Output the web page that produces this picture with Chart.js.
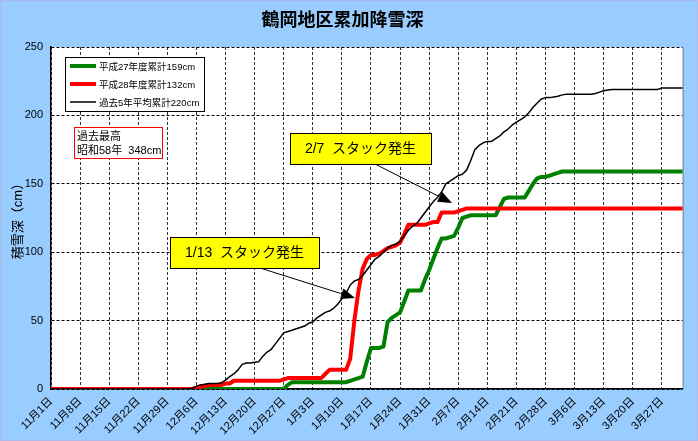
<!DOCTYPE html>
<html lang="ja">
<head>
<meta charset="utf-8">
<title>鶴岡地区累加降雪深</title>
<script src="https://cdn.jsdelivr.net/npm/chart.js@4.4.1/dist/chart.umd.min.js"></script>
<style>
  html, body { margin: 0; padding: 0; background: #99CCFF; }
  #chart { display: block; }
</style>
</head>
<body>
<canvas id="chart" width="698" height="441"></canvas>
<script>
// --- DATA ---
// 11月1日 〜 4月1日 (平成28年は閏年なので2月は29日まで)
const MONTH_DAYS = [[11, 30], [12, 31], [1, 31], [2, 29], [3, 31], [4, 1]];
const LABELS = [];
MONTH_DAYS.forEach(([m, n]) => {
    for (let d = 1; d <= n; d++) LABELS.push(`${m}月${d}日`);
});

// 平成27年度累計 (cm)
const H27 = [
    0, 0, 0, 0, 0, 0, 0, 0, 0, 0,
    0, 0, 0, 0, 0, 0, 0, 0, 0, 0,
    0, 0, 0, 0, 0, 0, 0, 0, 0, 0,
    0, 0, 0, 0, 0, 0, 0, 0, 0, 0,
    0, 0, 0, 0, 0, 0, 0, 0, 0, 0,
    0, 0, 0, 0, 0, 0, 0, 3, 5, 5,
    5, 5, 5, 5, 5, 5, 5, 5, 5, 5,
    5, 5, 6, 7, 8, 9, 20, 30, 30, 30,
    31, 49, 52, 54, 56, 64, 72, 72, 72, 72,
    80, 87, 95, 103, 110, 110, 111, 112, 118, 125,
    126, 127, 127, 127, 127, 127, 127, 127, 133, 139,
    140, 140, 140, 140, 140, 145, 150, 154, 155, 155,
    156, 157, 158, 159, 159, 159, 159, 159, 159, 159,
    159, 159, 159, 159, 159, 159, 159, 159, 159, 159,
    159, 159, 159, 159, 159, 159, 159, 159, 159, 159,
    159, 159, 159
];

// 平成28年度累計 (cm)
const H28 = [
    0, 0, 0, 0, 0, 0, 0, 0, 0, 0,
    0, 0, 0, 0, 0, 0, 0, 0, 0, 0,
    0, 0, 0, 0, 0, 0, 0, 0, 0, 0,
    0, 0, 0, 0, 0, 1, 2, 2, 3, 3,
    3, 3, 4, 4, 6, 6, 6, 6, 6, 6,
    6, 6, 6, 6, 6, 6, 7, 8, 8, 8,
    8, 8, 8, 8, 8, 8, 11, 14, 14, 14,
    14, 14, 22, 50, 72, 88, 95, 98, 98, 99,
    101, 103, 104, 105, 107, 113, 120, 120, 120, 120,
    120, 121, 122, 122, 129, 129, 129, 129, 130, 131,
    132, 132, 132, 132, 132, 132, 132, 132, 132, 132,
    132, 132, 132, 132, 132, 132, 132, 132, 132, 132,
    132, 132, 132, 132, 132, 132, 132, 132, 132, 132,
    132, 132, 132, 132, 132, 132, 132, 132, 132, 132,
    132, 132, 132, 132, 132, 132, 132, 132, 132, 132,
    132, 132, 132
];

// 過去5年平均累計 (cm)
const AVG5 = [
    0, 0, 0, 0, 0, 0, 0, 0, 0, 0,
    0, 0, 0, 0, 0, 0, 0, 0, 0, 0,
    0, 0, 0, 0, 0, 0, 0, 0, 0, 0,
    0, 0, 0, 0, 0.5, 2, 3, 3.5, 4, 4,
    4, 4.5, 6.5, 9, 11, 14, 18, 19, 19, 19.5,
    20, 24, 27, 29, 33, 37, 41, 42, 43, 44,
    45, 46, 48, 49, 52, 54, 56, 57, 59, 62,
    66, 70, 76, 79, 80, 83, 87, 91, 95, 97,
    100, 103, 105, 106, 108, 112, 116, 119, 121, 125,
    129, 133, 137, 140, 144, 150, 152, 154, 156, 157,
    160, 167, 175, 178, 180, 181, 181, 183, 185, 188,
    190, 193, 195, 197, 199, 202, 206, 209, 212, 213,
    213, 213.5, 214, 215, 215.5, 215.5, 215.5, 215.5, 215.5, 215.5,
    215.5, 216, 217, 218, 218.5, 219, 219, 219, 219, 219,
    219, 219, 219, 219, 219, 219, 219, 220, 220, 220,
    220, 220, 220
];

const SERIES_NAMES = ['平成27年度累計159cm', '平成28年度累計132cm', '過去5年平均累計220cm'];
const Y_TICKS = [0, 50, 100, 150, 200, 250];

// --- STYLE ---
const FONT = "'Liberation Sans', 'Noto Sans CJK JP', sans-serif";
const COLORS = ['#008000', '#FF0000', '#000000'];
const WIDTHS = [4, 4, 1.5];

// --- OVERLAY (凡例・注記) ---
function drawArrow(ctx, x1, y1, x2, y2) {
    const ang = Math.atan2(y2 - y1, x2 - x1);
    const len = 15, half = 0.38;
    ctx.beginPath();
    ctx.moveTo(x1, y1);
    ctx.lineTo(x2 - len * Math.cos(ang), y2 - len * Math.sin(ang));
    ctx.stroke();
    ctx.beginPath();
    ctx.moveTo(x2, y2);
    ctx.lineTo(x2 - len * Math.cos(ang - half), y2 - len * Math.sin(ang - half));
    ctx.lineTo(x2 - len * Math.cos(ang + half), y2 - len * Math.sin(ang + half));
    ctx.closePath();
    ctx.fill();
}

function noteBox(ctx, x, y, w, h, text) {
    ctx.fillStyle = '#FFFF00';
    ctx.fillRect(x, y, w, h);
    ctx.strokeStyle = '#000';
    ctx.lineWidth = 1;
    ctx.strokeRect(x + 0.5, y + 0.5, w, h);
    ctx.fillStyle = '#000';
    ctx.font = `14px ${FONT}`;
    ctx.textAlign = 'center';
    ctx.textBaseline = 'middle';
    ctx.fillText(text, x + w / 2, y + h / 2 + 1);
}

const backgroundPlugin = {
    id: 'background',
    beforeDraw(chart) {
        const { ctx, chartArea: a } = chart;
        ctx.save();
        ctx.fillStyle = '#99CCFF';
        ctx.fillRect(0, 0, chart.width, chart.height);
        ctx.strokeStyle = '#c9a3d6';
        ctx.setLineDash([1, 1]);
        ctx.strokeRect(0.5, 0.5, chart.width - 1, chart.height - 1);
        ctx.setLineDash([]);
        ctx.fillStyle = '#FFFFFF';
        ctx.fillRect(a.left, a.top, a.right - a.left, a.bottom - a.top);
        ctx.restore();
    }
};

const overlayPlugin = {
    id: 'overlay',
    afterDraw(chart) {
        const { ctx, chartArea: a } = chart;
        ctx.save();

        // 右枠
        ctx.strokeStyle = '#808080';
        ctx.lineWidth = 1;
        ctx.beginPath();
        ctx.moveTo(a.right + 0.5, a.top);
        ctx.lineTo(a.right + 0.5, a.bottom);
        ctx.stroke();

        // 凡例
        ctx.fillStyle = '#FFFFFF';
        ctx.fillRect(65, 57, 139, 54);
        ctx.strokeStyle = '#000';
        ctx.strokeRect(65.5, 57.5, 139, 54);
        ctx.font = `9.5px ${FONT}`;
        ctx.textAlign = 'left';
        ctx.textBaseline = 'middle';
        SERIES_NAMES.forEach((name, i) => {
            const y = 66 + i * 18;
            ctx.strokeStyle = COLORS[i];
            ctx.lineWidth = WIDTHS[i];
            ctx.beginPath();
            ctx.moveTo(70, y);
            ctx.lineTo(96, y);
            ctx.stroke();
            ctx.fillStyle = '#000';
            ctx.fillText(name, 99, y + 1);
        });

        // 過去最高
        ctx.fillStyle = '#FFFFFF';
        ctx.fillRect(74, 127, 88, 31);
        ctx.strokeStyle = '#FF0000';
        ctx.lineWidth = 1;
        ctx.strokeRect(74.5, 127.5, 88, 31);
        ctx.fillStyle = '#000';
        ctx.font = `11px ${FONT}`;
        ctx.fillText('過去最高', 77, 137);
        ctx.fillText('昭和58年  348cm', 77, 151);

        // スタック発生の注記
        ctx.strokeStyle = '#000';
        ctx.fillStyle = '#000';
        ctx.lineWidth = 1;
        drawArrow(ctx, 375, 164, 452, 203);
        drawArrow(ctx, 260, 268, 355, 298);
        noteBox(ctx, 290, 133, 141, 31, '2/7  スタック発生');
        noteBox(ctx, 170, 237, 149, 31, '1/13  スタック発生');

        ctx.restore();
    }
};

// --- CHART ---
const datasets = [H27, H28, AVG5].map((data, i) => ({
    label: SERIES_NAMES[i],
    data,
    borderColor: COLORS[i],
    backgroundColor: COLORS[i],
    borderWidth: WIDTHS[i],
    pointRadius: 0,
    tension: 0,
    fill: false,
    borderJoinStyle: 'round',
    order: 2 - i
}));

new Chart(document.getElementById('chart'), {
    type: 'line',
    data: { labels: LABELS, datasets },
    options: {
        responsive: false,
        animation: false,
        layout: { padding: { left: 0, right: 13, top: 0, bottom: 0 } },
        plugins: {
            legend: { display: false },
            tooltip: { enabled: false },
            title: {
                display: true,
                text: '鶴岡地区累加降雪深',
                color: '#000',
                font: { family: FONT, size: 18, weight: 'bold' },
                padding: { top: 10, bottom: 15.4 }
            }
        },
        scales: {
            x: {
                type: 'category',
                afterFit: scale => { scale.height = 52; },
                grid: {
                    color: c => (c.index % 7 === 0 ? '#333' : 'rgba(0,0,0,0)'),
                    lineWidth: 1,
                    drawTicks: false
                },
                border: { display: true, color: '#000', width: 1.5, dash: [3, 2] },
                ticks: {
                    autoSkip: false,
                    minRotation: 45,
                    maxRotation: 45,
                    padding: 6,
                    color: '#000',
                    font: { family: FONT, size: 11 },
                    callback: (v, i) => (i % 7 === 0 ? LABELS[i] : '')
                }
            },
            y: {
                min: 0,
                max: 250,
                afterFit: scale => { scale.width = 51; },
                afterBuildTicks: scale => { scale.ticks = Y_TICKS.map(v => ({ value: v })); },
                grid: { color: '#000', lineWidth: 1, drawTicks: false },
                border: { display: true, color: '#000', width: 1.5, dash: [3, 2] },
                ticks: {
                    padding: 8,
                    color: '#000',
                    font: { family: FONT, size: 11 }
                },
                title: {
                    display: true,
                    text: '積雪深（cm）',
                    color: '#000',
                    font: { family: FONT, size: 13 },
                    padding: { top: 11, bottom: 0 }
                }
            }
        }
    },
    plugins: [backgroundPlugin, overlayPlugin]
});
</script>
</body>
</html>
